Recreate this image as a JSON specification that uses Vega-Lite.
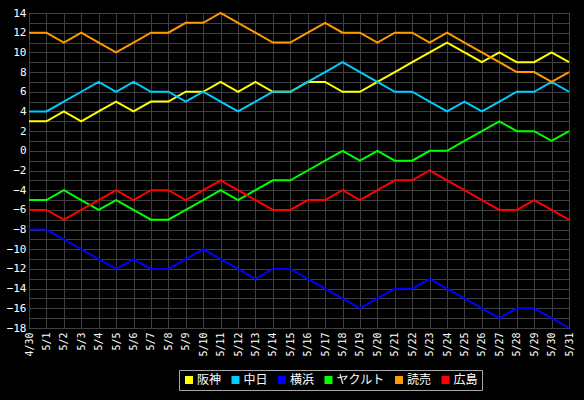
{
  "$schema": "https://vega.github.io/schema/vega-lite/v6.json",
  "width": 540,
  "height": 315,
  "autosize": {"type": "none"},
  "padding": {"left": 29, "top": 13, "right": 15, "bottom": 72},
  "background": "#000000",
  "config": {
    "view": {"stroke": "#a8a8a8", "fill": "#000000", "strokeWidth": 1},
    "axis": {"gridColor": "#404040", "gridWidth": 1, "domain": false, "ticks": false, "labelColor": "#ffffff", "labelFont": "DejaVu Sans Mono", "labelFontSize": 10, "labelOverlap": false, "title": null}
  },
  "data": {"values": [
    {"date":"4/30","team":"阪神","value":3},{"date":"5/1","team":"阪神","value":3},{"date":"5/2","team":"阪神","value":4},{"date":"5/3","team":"阪神","value":3},{"date":"5/4","team":"阪神","value":4},{"date":"5/5","team":"阪神","value":5},{"date":"5/6","team":"阪神","value":4},{"date":"5/7","team":"阪神","value":5},{"date":"5/8","team":"阪神","value":5},{"date":"5/9","team":"阪神","value":6},{"date":"5/10","team":"阪神","value":6},{"date":"5/11","team":"阪神","value":7},{"date":"5/12","team":"阪神","value":6},{"date":"5/13","team":"阪神","value":7},{"date":"5/14","team":"阪神","value":6},{"date":"5/15","team":"阪神","value":6},{"date":"5/16","team":"阪神","value":7},{"date":"5/17","team":"阪神","value":7},{"date":"5/18","team":"阪神","value":6},{"date":"5/19","team":"阪神","value":6},{"date":"5/20","team":"阪神","value":7},{"date":"5/21","team":"阪神","value":8},{"date":"5/22","team":"阪神","value":9},{"date":"5/23","team":"阪神","value":10},{"date":"5/24","team":"阪神","value":11},{"date":"5/25","team":"阪神","value":10},{"date":"5/26","team":"阪神","value":9},{"date":"5/27","team":"阪神","value":10},{"date":"5/28","team":"阪神","value":9},{"date":"5/29","team":"阪神","value":9},{"date":"5/30","team":"阪神","value":10},{"date":"5/31","team":"阪神","value":9},
    {"date":"4/30","team":"中日","value":4},{"date":"5/1","team":"中日","value":4},{"date":"5/2","team":"中日","value":5},{"date":"5/3","team":"中日","value":6},{"date":"5/4","team":"中日","value":7},{"date":"5/5","team":"中日","value":6},{"date":"5/6","team":"中日","value":7},{"date":"5/7","team":"中日","value":6},{"date":"5/8","team":"中日","value":6},{"date":"5/9","team":"中日","value":5},{"date":"5/10","team":"中日","value":6},{"date":"5/11","team":"中日","value":5},{"date":"5/12","team":"中日","value":4},{"date":"5/13","team":"中日","value":5},{"date":"5/14","team":"中日","value":6},{"date":"5/15","team":"中日","value":6},{"date":"5/16","team":"中日","value":7},{"date":"5/17","team":"中日","value":8},{"date":"5/18","team":"中日","value":9},{"date":"5/19","team":"中日","value":8},{"date":"5/20","team":"中日","value":7},{"date":"5/21","team":"中日","value":6},{"date":"5/22","team":"中日","value":6},{"date":"5/23","team":"中日","value":5},{"date":"5/24","team":"中日","value":4},{"date":"5/25","team":"中日","value":5},{"date":"5/26","team":"中日","value":4},{"date":"5/27","team":"中日","value":5},{"date":"5/28","team":"中日","value":6},{"date":"5/29","team":"中日","value":6},{"date":"5/30","team":"中日","value":7},{"date":"5/31","team":"中日","value":6},
    {"date":"4/30","team":"横浜","value":-8},{"date":"5/1","team":"横浜","value":-8},{"date":"5/2","team":"横浜","value":-9},{"date":"5/3","team":"横浜","value":-10},{"date":"5/4","team":"横浜","value":-11},{"date":"5/5","team":"横浜","value":-12},{"date":"5/6","team":"横浜","value":-11},{"date":"5/7","team":"横浜","value":-12},{"date":"5/8","team":"横浜","value":-12},{"date":"5/9","team":"横浜","value":-11},{"date":"5/10","team":"横浜","value":-10},{"date":"5/11","team":"横浜","value":-11},{"date":"5/12","team":"横浜","value":-12},{"date":"5/13","team":"横浜","value":-13},{"date":"5/14","team":"横浜","value":-12},{"date":"5/15","team":"横浜","value":-12},{"date":"5/16","team":"横浜","value":-13},{"date":"5/17","team":"横浜","value":-14},{"date":"5/18","team":"横浜","value":-15},{"date":"5/19","team":"横浜","value":-16},{"date":"5/20","team":"横浜","value":-15},{"date":"5/21","team":"横浜","value":-14},{"date":"5/22","team":"横浜","value":-14},{"date":"5/23","team":"横浜","value":-13},{"date":"5/24","team":"横浜","value":-14},{"date":"5/25","team":"横浜","value":-15},{"date":"5/26","team":"横浜","value":-16},{"date":"5/27","team":"横浜","value":-17},{"date":"5/28","team":"横浜","value":-16},{"date":"5/29","team":"横浜","value":-16},{"date":"5/30","team":"横浜","value":-17},{"date":"5/31","team":"横浜","value":-18},
    {"date":"4/30","team":"ヤクルト","value":-5},{"date":"5/1","team":"ヤクルト","value":-5},{"date":"5/2","team":"ヤクルト","value":-4},{"date":"5/3","team":"ヤクルト","value":-5},{"date":"5/4","team":"ヤクルト","value":-6},{"date":"5/5","team":"ヤクルト","value":-5},{"date":"5/6","team":"ヤクルト","value":-6},{"date":"5/7","team":"ヤクルト","value":-7},{"date":"5/8","team":"ヤクルト","value":-7},{"date":"5/9","team":"ヤクルト","value":-6},{"date":"5/10","team":"ヤクルト","value":-5},{"date":"5/11","team":"ヤクルト","value":-4},{"date":"5/12","team":"ヤクルト","value":-5},{"date":"5/13","team":"ヤクルト","value":-4},{"date":"5/14","team":"ヤクルト","value":-3},{"date":"5/15","team":"ヤクルト","value":-3},{"date":"5/16","team":"ヤクルト","value":-2},{"date":"5/17","team":"ヤクルト","value":-1},{"date":"5/18","team":"ヤクルト","value":0},{"date":"5/19","team":"ヤクルト","value":-1},{"date":"5/20","team":"ヤクルト","value":0},{"date":"5/21","team":"ヤクルト","value":-1},{"date":"5/22","team":"ヤクルト","value":-1},{"date":"5/23","team":"ヤクルト","value":0},{"date":"5/24","team":"ヤクルト","value":0},{"date":"5/25","team":"ヤクルト","value":1},{"date":"5/26","team":"ヤクルト","value":2},{"date":"5/27","team":"ヤクルト","value":3},{"date":"5/28","team":"ヤクルト","value":2},{"date":"5/29","team":"ヤクルト","value":2},{"date":"5/30","team":"ヤクルト","value":1},{"date":"5/31","team":"ヤクルト","value":2},
    {"date":"4/30","team":"読売","value":12},{"date":"5/1","team":"読売","value":12},{"date":"5/2","team":"読売","value":11},{"date":"5/3","team":"読売","value":12},{"date":"5/4","team":"読売","value":11},{"date":"5/5","team":"読売","value":10},{"date":"5/6","team":"読売","value":11},{"date":"5/7","team":"読売","value":12},{"date":"5/8","team":"読売","value":12},{"date":"5/9","team":"読売","value":13},{"date":"5/10","team":"読売","value":13},{"date":"5/11","team":"読売","value":14},{"date":"5/12","team":"読売","value":13},{"date":"5/13","team":"読売","value":12},{"date":"5/14","team":"読売","value":11},{"date":"5/15","team":"読売","value":11},{"date":"5/16","team":"読売","value":12},{"date":"5/17","team":"読売","value":13},{"date":"5/18","team":"読売","value":12},{"date":"5/19","team":"読売","value":12},{"date":"5/20","team":"読売","value":11},{"date":"5/21","team":"読売","value":12},{"date":"5/22","team":"読売","value":12},{"date":"5/23","team":"読売","value":11},{"date":"5/24","team":"読売","value":12},{"date":"5/25","team":"読売","value":11},{"date":"5/26","team":"読売","value":10},{"date":"5/27","team":"読売","value":9},{"date":"5/28","team":"読売","value":8},{"date":"5/29","team":"読売","value":8},{"date":"5/30","team":"読売","value":7},{"date":"5/31","team":"読売","value":8},
    {"date":"4/30","team":"広島","value":-6},{"date":"5/1","team":"広島","value":-6},{"date":"5/2","team":"広島","value":-7},{"date":"5/3","team":"広島","value":-6},{"date":"5/4","team":"広島","value":-5},{"date":"5/5","team":"広島","value":-4},{"date":"5/6","team":"広島","value":-5},{"date":"5/7","team":"広島","value":-4},{"date":"5/8","team":"広島","value":-4},{"date":"5/9","team":"広島","value":-5},{"date":"5/10","team":"広島","value":-4},{"date":"5/11","team":"広島","value":-3},{"date":"5/12","team":"広島","value":-4},{"date":"5/13","team":"広島","value":-5},{"date":"5/14","team":"広島","value":-6},{"date":"5/15","team":"広島","value":-6},{"date":"5/16","team":"広島","value":-5},{"date":"5/17","team":"広島","value":-5},{"date":"5/18","team":"広島","value":-4},{"date":"5/19","team":"広島","value":-5},{"date":"5/20","team":"広島","value":-4},{"date":"5/21","team":"広島","value":-3},{"date":"5/22","team":"広島","value":-3},{"date":"5/23","team":"広島","value":-2},{"date":"5/24","team":"広島","value":-3},{"date":"5/25","team":"広島","value":-4},{"date":"5/26","team":"広島","value":-5},{"date":"5/27","team":"広島","value":-6},{"date":"5/28","team":"広島","value":-6},{"date":"5/29","team":"広島","value":-5},{"date":"5/30","team":"広島","value":-6},{"date":"5/31","team":"広島","value":-7}
  ]},
  "mark": {"type": "line", "strokeWidth": 2, "interpolate": "linear"},
  "encoding": {
    "x": {
      "field": "date", "type": "ordinal", "sort": null,
      "scale": {"type": "point", "padding": 0},
      "axis": {"labelAngle": -90, "labelAlign": "right", "labelBaseline": "middle", "labelPadding": 4, "grid": true, "title": null}
    },
    "y": {
      "field": "value", "type": "quantitative",
      "scale": {"domain": [-18, 14], "nice": false, "zero": false},
      "axis": {
        "values": [-18,-17,-16,-15,-14,-13,-12,-11,-10,-9,-8,-7,-6,-5,-4,-3,-2,-1,0,1,2,3,4,5,6,7,8,9,10,11,12,13,14],
        "labelExpr": "datum.value % 2 == 0 ? datum.label : ''",
        "labelPadding": 3, "grid": true, "title": null, "labelFontSize": 11
      }
    },
    "color": {
      "field": "team", "type": "nominal",
      "scale": {"domain": ["阪神","中日","横浜","ヤクルト","読売","広島"], "range": ["#ffff00","#00ccff","#0000ff","#00ff00","#ff9900","#ff0000"]},
      "legend": {
        "orient": "none", "legendX": 150, "legendY": 357, "direction": "horizontal",
        "title": null, "symbolType": "square", "symbolSize": 64, "symbolStrokeWidth": 0,
        "labelColor": "#ffffff", "labelFont": "Noto Sans CJK JP", "labelFontSize": 12,
        "labelOffset": 2, "columnPadding": 7.5, "padding": 4,
        "strokeColor": "#a8a8a8", "fillColor": "#000000",
        "encode": {"symbols": {"update": {"fill": {"scale": "color", "field": "value"}, "fillOpacity": {"value": 1}}}}
      }
    }
  }
}
